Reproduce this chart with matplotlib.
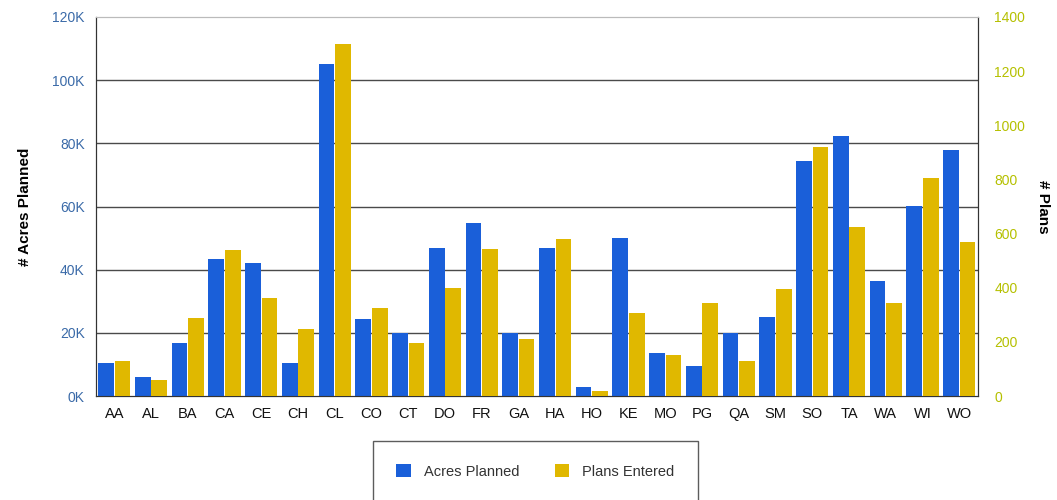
import numpy as np
import matplotlib.pyplot as plt

plt.rcParams["font.family"] = ["Liberation Sans", "DejaVu Sans"]

categories = ["AA", "AL", "BA", "CA", "CE", "CH", "CL", "CO", "CT", "DO", "FR", "GA",
              "HA", "HO", "KE", "MO", "PG", "QA", "SM", "SO", "TA", "WA", "WI", "WO"]
acres_planned = [10300, 5900, 16700, 43400, 42000, 10300, 105000, 24300, 19900, 46800,
                 54700, 20000, 46800, 2900, 49900, 13500, 9600, 19900, 25000, 74400,
                 82300, 36500, 60200, 77900]
plans_entered = [129, 59, 289, 539, 363, 246, 1299, 326, 195, 398,
                 543, 209, 580, 18, 305, 150, 345, 129, 396, 921,
                 625, 345, 806, 570]
left_ticks = [0, 20000, 40000, 60000, 80000, 100000, 120000]
left_labels = ["0K", "20K", "40K", "60K", "80K", "100K", "120K"]
right_ticks = [0, 200, 400, 600, 800, 1000, 1200, 1400]

blue = "#1a5fd9"
yellow = "#e0b800"

fig = plt.figure(figsize=(10.57, 5), dpi=100)
ax = fig.add_axes([0.0908, 0.208, 0.834, 0.758])
ax2 = ax.twinx()

x = np.arange(len(categories))
w = 0.45
ax.bar(x - w / 2, acres_planned, width=w * 0.95, color=blue, label="Acres Planned", zorder=3)
ax2.bar(x + w / 2, plans_entered, width=w * 0.95, color=yellow, label="Plans Entered", zorder=3)

ax.set_xlim(-0.5, len(categories) - 0.5)
ax.set_ylim(0, 120000)
ax2.set_ylim(0, 1400)
ax.set_yticks(left_ticks)
ax.set_yticklabels(left_labels)
ax2.set_yticks(right_ticks)
ax.set_xticks(x)
ax.set_xticklabels(categories)

for t in left_ticks[1:-1]:
    ax.axhline(t, color="#4a4a4a", lw=1.0, zorder=1)

ax.tick_params(axis="y", length=0, colors="#3a6aa8", labelsize=10, pad=8)
ax2.tick_params(axis="y", length=0, colors="#b5c000", labelsize=10, pad=12)
ax.tick_params(axis="x", length=0, labelsize=10.5, pad=8, colors="#111111")

for s in ["left", "bottom", "right"]:
    ax.spines[s].set_color("#333333")
    ax2.spines[s].set_color("#333333")
ax.spines["top"].set_color("#bbbbbb")
ax2.spines["top"].set_color("#bbbbbb")

ax.set_ylabel("# Acres Planned", fontsize=11, fontweight="bold", labelpad=15)
ax2.set_ylabel("# Plans", fontsize=11, fontweight="bold", rotation=270, labelpad=18)

h1, l1 = ax.get_legend_handles_labels()
h2, l2 = ax2.get_legend_handles_labels()
leg = fig.legend(h1 + h2, l1 + l2, loc="upper left", bbox_to_anchor=(0.353, 0.118),
                 ncol=2, frameon=True, fancybox=False, edgecolor="#333333",
                 fontsize=10.5, handlelength=1.0, handleheight=1.0,
                 borderpad=1.6, columnspacing=2.4, handletextpad=0.9,
                 borderaxespad=0)
leg.get_frame().set_linewidth(1.0)
for t in leg.get_texts():
    t.set_color("#333333")

fig.savefig("out.png", dpi=100)
